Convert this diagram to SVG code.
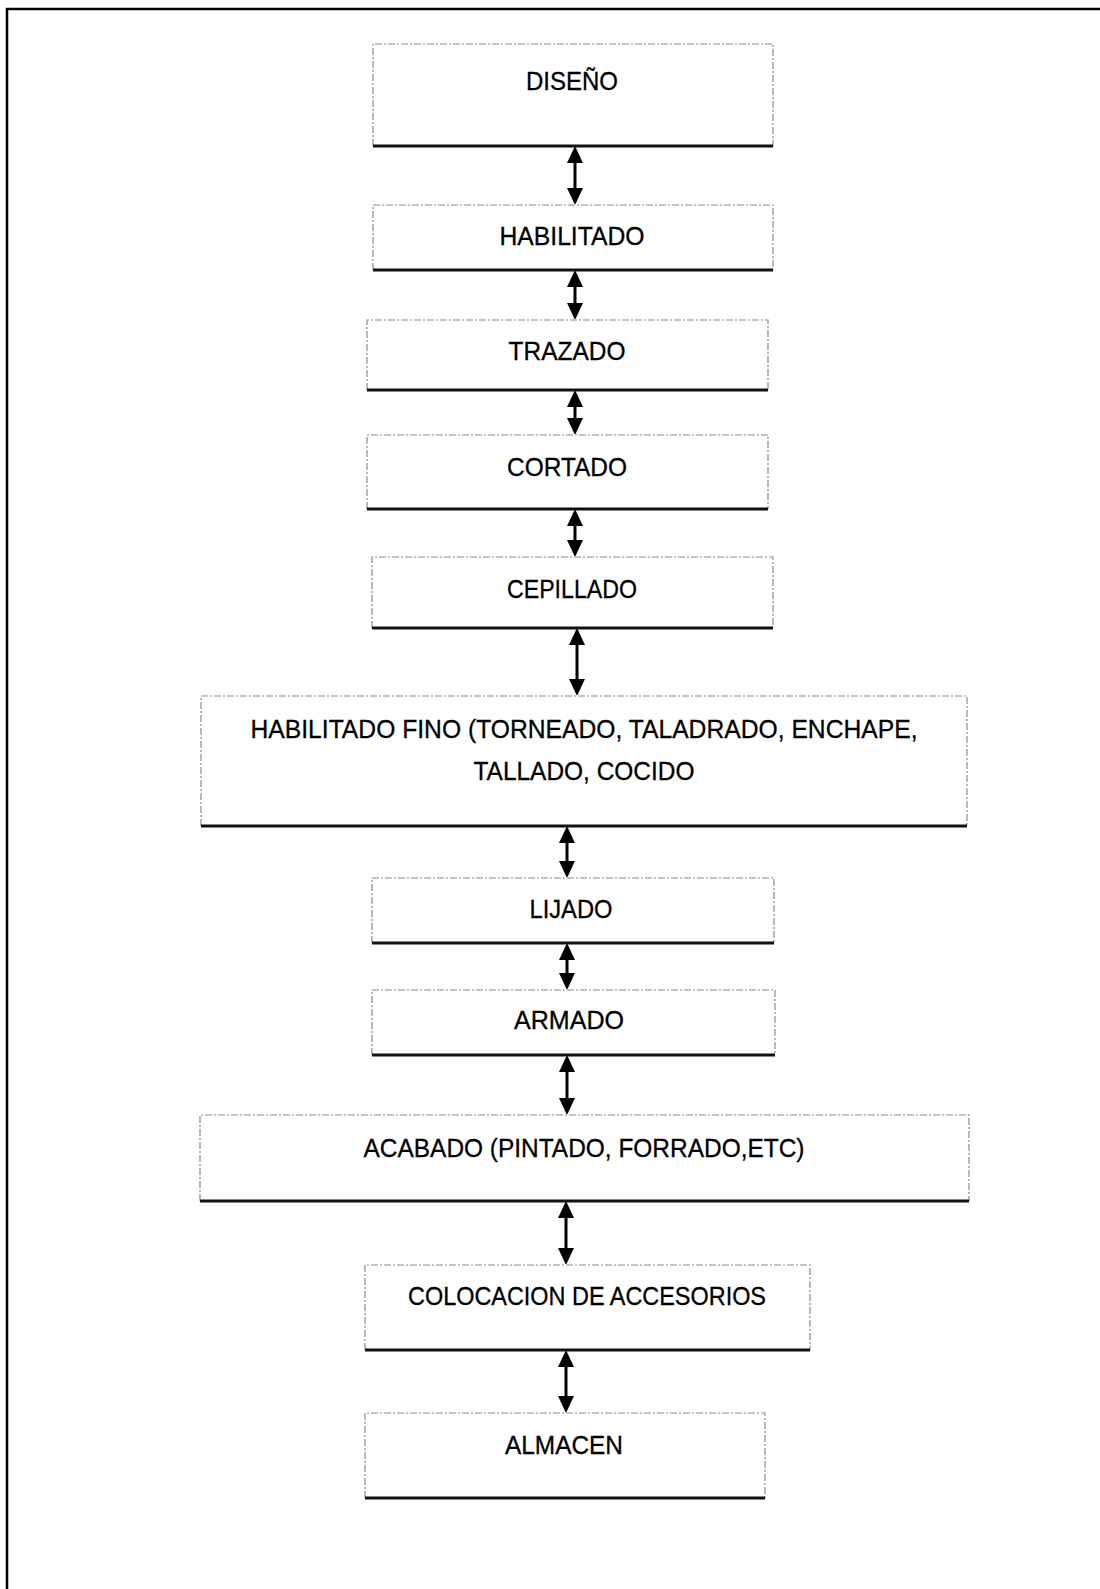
<svg xmlns="http://www.w3.org/2000/svg" width="1100" height="1589" viewBox="0 0 1100 1589">
<defs>
<style>
.side{fill:none;stroke:#8a8a8a;stroke-width:1.2;stroke-dasharray:7 2 2 2}
.bot{stroke:#111;stroke-width:3}
.lbl{font-family:"Liberation Sans",Arial,sans-serif;font-size:26px;fill:#000;stroke:#000;stroke-width:0.3;text-anchor:middle}
.arr{stroke:#000;stroke-width:3;fill:none;marker-start:url(#ah);marker-end:url(#ah)}
.frame{stroke:#000;stroke-width:2.5;fill:none}
</style>
<marker id="ah" viewBox="0 0 16 17" refX="7" refY="8.5" markerWidth="16" markerHeight="17" markerUnits="userSpaceOnUse" orient="auto-start-reverse">
<path d="M0,0.5 L17,8.5 L0,16.5 Z" fill="#000"/>
</marker>
</defs>
<rect width="1100" height="1589" fill="#fff"/>
<path class="frame" d="M1100,9 H7 V1589"/>

<g id="connectors">
<line class="arr" x1="575" y1="156" x2="575" y2="195"/>
<line class="arr" x1="575" y1="280" x2="575" y2="310"/>
<line class="arr" x1="575" y1="400" x2="575" y2="425"/>
<line class="arr" x1="575" y1="519" x2="575" y2="547"/>
<line class="arr" x1="577" y1="638" x2="577" y2="686"/>
<line class="arr" x1="567" y1="836" x2="567" y2="868"/>
<line class="arr" x1="567" y1="953" x2="567" y2="980"/>
<line class="arr" x1="567" y1="1065" x2="567" y2="1105"/>
<line class="arr" x1="566" y1="1211" x2="566" y2="1255"/>
<line class="arr" x1="566" y1="1360" x2="566" y2="1403"/>
</g>

<g id="diseno">
<path class="side" d="M373,146 V44 H773 V146"/>
<line class="bot" x1="373" y1="146" x2="773" y2="146"/>
<text class="lbl" x="572" y="90" textLength="92" lengthAdjust="spacingAndGlyphs">DISEÑO</text>
</g>
<g id="habilitado">
<path class="side" d="M373,270 V205 H773 V270"/>
<line class="bot" x1="373" y1="270" x2="773" y2="270"/>
<text class="lbl" x="572" y="245" textLength="145" lengthAdjust="spacingAndGlyphs">HABILITADO</text>
</g>
<g id="trazado">
<path class="side" d="M367,390 V320 H768 V390"/>
<line class="bot" x1="367" y1="390" x2="768" y2="390"/>
<text class="lbl" x="567" y="360" textLength="117" lengthAdjust="spacingAndGlyphs">TRAZADO</text>
</g>
<g id="cortado">
<path class="side" d="M367,509 V435 H768 V509"/>
<line class="bot" x1="367" y1="509" x2="768" y2="509"/>
<text class="lbl" x="567" y="476" textLength="120" lengthAdjust="spacingAndGlyphs">CORTADO</text>
</g>
<g id="cepillado">
<path class="side" d="M372,628 V557 H773 V628"/>
<line class="bot" x1="372" y1="628" x2="773" y2="628"/>
<text class="lbl" x="572" y="598" textLength="130" lengthAdjust="spacingAndGlyphs">CEPILLADO</text>
</g>
<g id="habilitado-fino">
<path class="side" d="M201,826 V696 H967 V826"/>
<line class="bot" x1="201" y1="826" x2="967" y2="826"/>
<text class="lbl" x="584" y="738" textLength="667" lengthAdjust="spacingAndGlyphs">HABILITADO FINO (TORNEADO, TALADRADO, ENCHAPE,</text>
<text class="lbl" x="584" y="780" textLength="221" lengthAdjust="spacingAndGlyphs">TALLADO, COCIDO</text>
</g>
<g id="lijado">
<path class="side" d="M372,943 V878 H774 V943"/>
<line class="bot" x1="372" y1="943" x2="774" y2="943"/>
<text class="lbl" x="571" y="918" textLength="83" lengthAdjust="spacingAndGlyphs">LIJADO</text>
</g>
<g id="armado">
<path class="side" d="M372,1055 V990 H775 V1055"/>
<line class="bot" x1="372" y1="1055" x2="775" y2="1055"/>
<text class="lbl" x="569" y="1029" textLength="110" lengthAdjust="spacingAndGlyphs">ARMADO</text>
</g>
<g id="acabado">
<path class="side" d="M200,1201 V1115 H969 V1201"/>
<line class="bot" x1="200" y1="1201" x2="969" y2="1201"/>
<text class="lbl" x="584" y="1157" textLength="441" lengthAdjust="spacingAndGlyphs">ACABADO (PINTADO, FORRADO,ETC)</text>
</g>
<g id="colocacion">
<path class="side" d="M365,1350 V1265 H810 V1350"/>
<line class="bot" x1="365" y1="1350" x2="810" y2="1350"/>
<text class="lbl" x="587" y="1305" textLength="358" lengthAdjust="spacingAndGlyphs">COLOCACION DE ACCESORIOS</text>
</g>
<g id="almacen">
<path class="side" d="M365,1498 V1413 H765 V1498"/>
<line class="bot" x1="365" y1="1498" x2="765" y2="1498"/>
<text class="lbl" x="564" y="1454" textLength="118" lengthAdjust="spacingAndGlyphs">ALMACEN</text>
</g>
</svg>
